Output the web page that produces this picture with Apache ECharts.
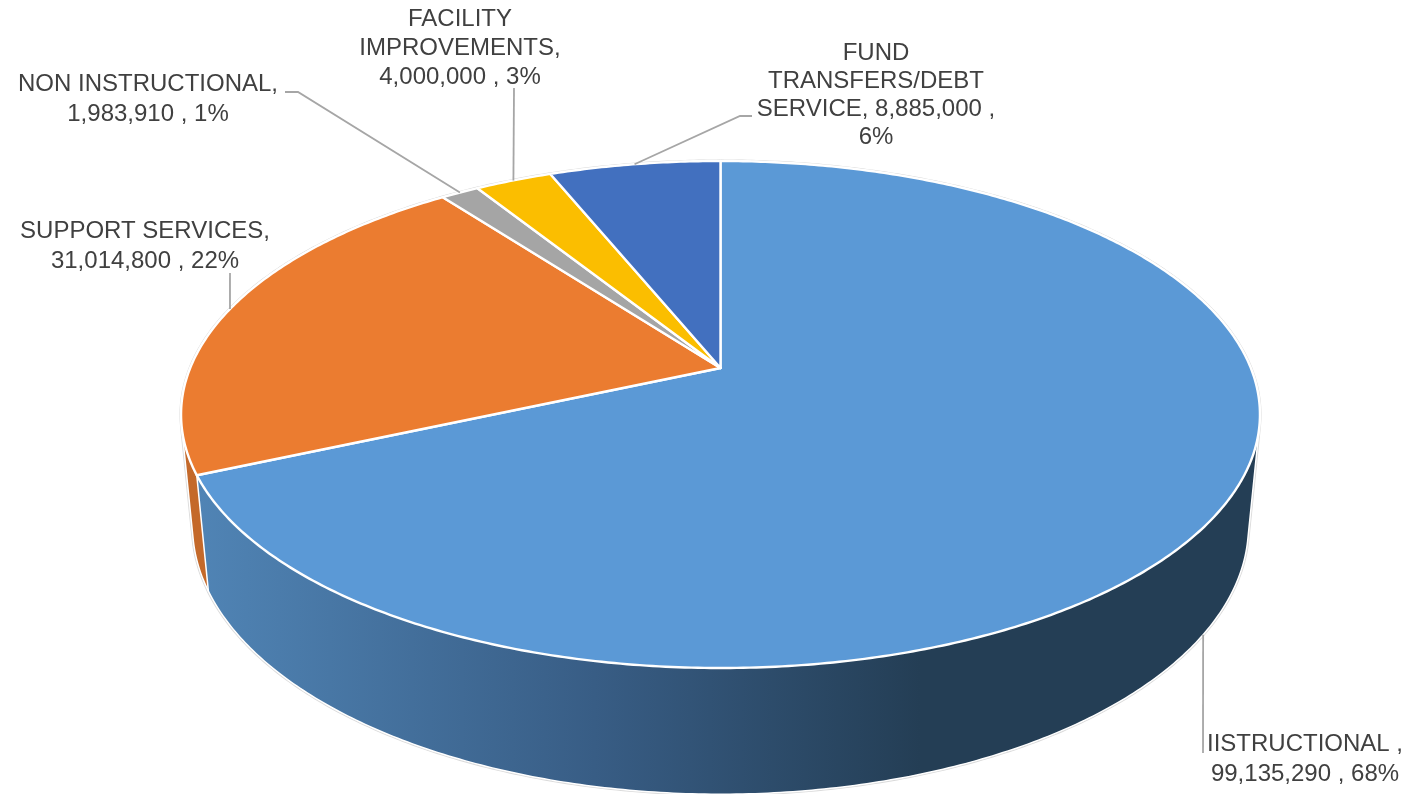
<!DOCTYPE html>
<html><head><meta charset="utf-8">
<style>html,body{margin:0;padding:0;background:#fff}#c{width:1428px;height:794px}</style>
<script src="https://cdn.jsdelivr.net/npm/echarts@6/dist/echarts.min.js"></script>
</head><body><div id="c"></div>
<script>
// ---- data (clockwise from 12 o'clock) ----
const categories = ['IISTRUCTIONAL ,', 'SUPPORT SERVICES,', 'NON INSTRUCTIONAL,', 'FACILITY\nIMPROVEMENTS,', 'FUND\nTRANSFERS/DEBT\nSERVICE, 8,885,000 ,'];
const values = [99135290, 31014800, 1983910, 4000000, 8885000];
const valueLabels = ['99,135,290 , 68%', '31,014,800 , 22%', '1,983,910 , 1%', '4,000,000 , 3%', '6%'];

// ---- styling / layout ----
const topColors = ['#5B99D6', '#EB7C30', '#A5A5A5', '#FBBE00', '#4270BF'];
const wallColors = ['#243E55', '#C4692A', '#7F7F7F', '#C49400', '#2F5597'];
const textCenters = [[1305, 759.5], [145, 246.5], [148, 99.5], [460, 48], [876, 95]];
const textLineHeights = [29.5, 30, 30, 29, 28];
const leaderBends = [[[1203, 753]], [[230, 273]], [[298, 92], [285, 92]], [[514, 88]], [[740, 116], [752, 116]]];
const leaderOnWall = [true, false, false, false, false];
const P = {cx: 720.5, cy: 368, a: 530.3, b: 245, k: 0.1834, m: 0.021, c: 112};

const total = values.reduce((s, v) => s + v, 0);
const starts = [];
values.reduce((s, v, i) => (starts[i] = s, s + v), 0);

// perspective projection of a unit disc; h = 0 top face, h = 1 bottom face
function project(theta, h) {
  const u = Math.sin(theta), v = -Math.cos(theta);
  const w = 1 - P.k * v + P.m * h;
  return [P.cx + P.a * u / w, P.cy + (P.b * v + P.c * h) / w];
}
function angle(frac) { return frac * 2 * Math.PI; }
function rim(i, h) {
  const a0 = angle(starts[i] / total), a1 = angle((starts[i] + values[i]) / total);
  const n = Math.max(4, Math.ceil((a1 - a0) / 0.01));
  const pts = [];
  for (let j = 0; j <= n; j++) pts.push(project(a0 + (a1 - a0) * j / n, h));
  return pts;
}
function hull(points) {
  const p = points.slice().sort((A, B) => A[0] - B[0] || A[1] - B[1]);
  const cross = (o, A, B) => (A[0] - o[0]) * (B[1] - o[1]) - (A[1] - o[1]) * (B[0] - o[0]);
  const lo = [], up = [];
  for (const q of p) { while (lo.length > 1 && cross(lo[lo.length - 2], lo[lo.length - 1], q) <= 0) lo.pop(); lo.push(q); }
  for (const q of p.slice().reverse()) { while (up.length > 1 && cross(up[up.length - 2], up[up.length - 1], q) <= 0) up.pop(); up.push(q); }
  return lo.slice(0, -1).concat(up.slice(0, -1));
}

const wallGradient = new echarts.graphic.LinearGradient(197, 0, 920, 0, [
  {offset: 0, color: '#5084B5'},
  {offset: 0.55, color: '#385D85'},
  {offset: 1, color: '#243E55'}
], true);

const rows = values.map((v, i) => [v, i]);
const base = {type: 'custom', coordinateSystem: 'none', data: rows, silent: true, animation: false, clip: false};

const chart = echarts.init(document.getElementById('c'), null, {renderer: 'canvas'});
chart.setOption({
  backgroundColor: '#fff',
  animation: false,
  series: [
    Object.assign({}, base, {
      name: 'outline', z: 0,
      data: [[total, 0]],
      renderItem() {
        const all = values.flatMap((v, i) => rim(i, 0).concat(rim(i, 1)));
        return {type: 'polygon', shape: {points: hull(all)},
          style: {fill: '#fff', stroke: '#DADADA', lineWidth: 3.2, lineJoin: 'round'}};
      }
    }),
    Object.assign({}, base, {
      name: 'walls', z: 1,
      data: rows.slice().reverse(),
      renderItem(params, api) {
        const i = api.value(1);
        return {type: 'polygon', shape: {points: hull(rim(i, 0).concat(rim(i, 1)))},
          style: {fill: i === 0 ? wallGradient : wallColors[i], stroke: '#fff', lineWidth: 1.5, lineJoin: 'round'}};
      }
    }),
    Object.assign({}, base, {
      name: 'top', z: 2,
      renderItem(params, api) {
        const i = api.value(1);
        return {type: 'polygon', shape: {points: [[P.cx, P.cy]].concat(rim(i, 0))},
          style: {fill: topColors[i], stroke: '#fff', lineWidth: 2.4, lineJoin: 'round'}};
      }
    }),
    Object.assign({}, base, {
      name: 'labels', z: 3,
      renderItem(params, api) {
        const i = api.value(1);
        const mid = angle((starts[i] + values[i] / 2) / total);
        const anchor = project(mid, leaderOnWall[i] ? 1 : 0);
        const text = categories[i] + '\n' + valueLabels[i];
        return {type: 'group', children: [
          {type: 'polyline', shape: {points: [anchor].concat(leaderBends[i])},
           style: {fill: null, stroke: '#A6A6A6', lineWidth: 1.8}},
          {type: 'text', style: {text, x: textCenters[i][0], y: textCenters[i][1], align: 'center', verticalAlign: 'middle',
            fontFamily: 'Liberation Sans, Arial, sans-serif', fontSize: 24, lineHeight: textLineHeights[i], fill: '#404040'}}
        ]};
      }
    })
  ]
});
</script></body></html>
